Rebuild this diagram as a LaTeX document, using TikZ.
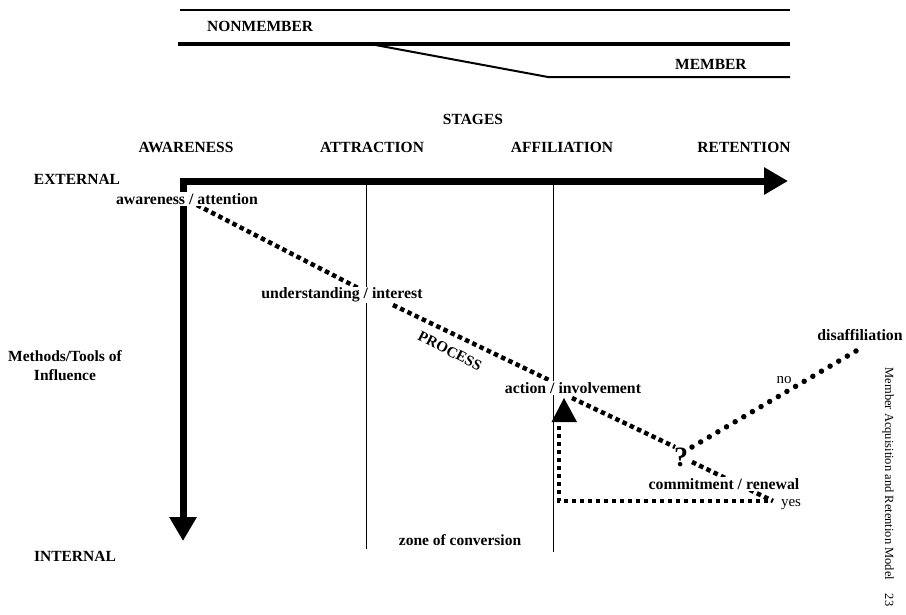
\documentclass[tikz,border=0pt]{standalone}
\usepackage{fontspec}
\setmainfont{Liberation Serif}
\usetikzlibrary{arrows.meta}
\begin{document}
\begin{tikzpicture}[x=1pt,y=-1pt,
  lbl/.style={font=\bfseries\fontsize{15.8}{18}\selectfont, inner sep=1pt},
  stage/.style={font=\bfseries\fontsize{15.5}{19}\selectfont, inner sep=1pt},
  step lbl/.style={lbl, fill=white},
  plain lbl/.style={font=\fontsize{15}{17}\selectfont, inner sep=1pt},
  bigarrow/.style={line width=7pt, -{Triangle[length=24pt,width=26pt]}},
  sqdash/.style={line width=4.5pt, dash pattern=on 4.5pt off 3.5pt},
  rounddot/.style={line width=5.5pt, line cap=round, dash pattern=on 0pt off 10pt},
  thin/.style={line width=1pt},
  band/.style={line width=2pt}]
\useasboundingbox (0,0) rectangle (906,614);
\fill[white] (0,0) rectangle (906,614);

% top membership diagram
\coordinate (t1) at (180,10); \coordinate (t2) at (790,10);
\coordinate (m1) at (178,44); \coordinate (m2) at (790,44);
\coordinate (sp) at (370,44); \coordinate (sb) at (548,77); \coordinate (se) at (790,77);
\draw[band] (t1) -- (t2);
\draw[line width=4.5pt] (m1) -- (m2);
\draw[band] (sp) -- (sb) -- (se);
\node[stage, anchor=west] (nonmember) at (206,26) {NONMEMBER};
\node[stage, anchor=west] (member) at (674,64) {MEMBER};

% headings
\node[stage] (stages) at (473,119) {STAGES};
\node[stage] (awareness) at (186,147) {AWARENESS};
\node[stage] (attraction) at (372,147) {ATTRACTION};
\node[stage] (affiliation) at (562,147) {AFFILIATION};
\node[stage] (retention) at (744,147) {RETENTION};
\node[stage] (external) at (77,179) {EXTERNAL};
\node[stage] (internal) at (75,556) {INTERNAL};
\node[stage, align=center] (methods) at (65,366) {Methods/Tools of\\Influence};

% axes
\coordinate (corner) at (183,181);
\coordinate (hend) at (788,181);
\coordinate (vend) at (183,541);
\draw[bigarrow] (179.5,181) -- (hend);
\draw[bigarrow] (183,177.5) -- (vend);

% stage separators
\coordinate (a1) at (366,181); \coordinate (a2) at (366,549);
\coordinate (b1) at (553,181); \coordinate (b2) at (553,552);
\draw[thin] (a1) -- (a2);
\draw[thin] (b1) -- (b2);
\node[stage] (zone) at (460,540) {zone of conversion};

% process path
\coordinate (p1s) at (197,205); \coordinate (p1e) at (362,290);
\coordinate (p2s) at (393,305); \coordinate (p2e) at (549,380);
\coordinate (p3s) at (572,398); \coordinate (p3e) at (675,447);
\coordinate (p4s) at (692,462); \coordinate (p4e) at (773,501);
\draw[sqdash] (p1s) -- (p1e);
\draw[sqdash] (p2s) -- (p2e);
\draw[sqdash] (p3s) -- (p3e);
\draw[sqdash] (p4s) -- (p4e);

% feedback loop
\coordinate (f1) at (768,501); \coordinate (f2) at (559,501); \coordinate (f3) at (559,424);
\draw[sqdash] (f1) -- (f2) -- (f3);
\fill (551.5,422) -- (577,422) -- (564,398) -- cycle;

% disaffiliation
\coordinate (d1) at (692,447); \coordinate (d2) at (856,351);
\draw[rounddot] (d1) -- (d2);

% labels
\node[step lbl] (aw) at (187,199) {awareness / attention};
\node[step lbl] (un) at (342,295) {understanding / interest};
\node[step lbl] (ac) at (573,388) {action / involvement};
\node[step lbl] (co) at (724,484) {commitment / renewal};
\node[inner sep=0pt, font=\bfseries\fontsize{28}{30}\selectfont] (q) at (681,457) {?};
\node[lbl, rotate=-27, font=\bfseries\fontsize{15}{17}\selectfont] (process) at (450,351) {PROCESS};
\node[plain lbl] (yes) at (791,505) {yes};
\node[plain lbl] (no) at (784,380) {no};
\node[lbl] (disaff) at (860,335) {disaffiliation};
\node[plain lbl, rotate=-90, font=\fontsize{12.5}{14}\selectfont] (caption) at (888,487) {Member Acquisition and Retention Model\hspace{1.1em}23};
\end{tikzpicture}
\end{document}
